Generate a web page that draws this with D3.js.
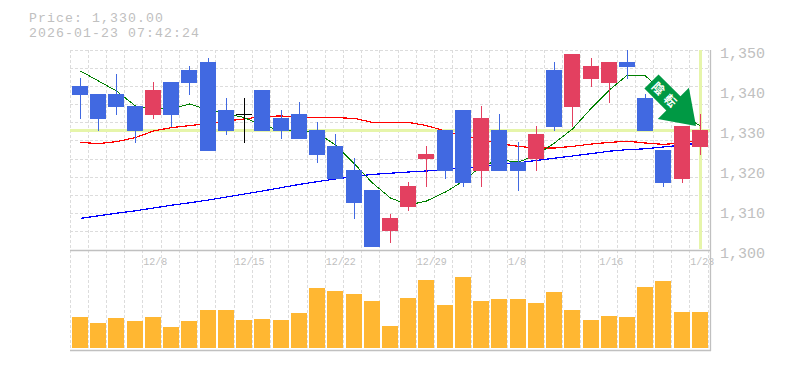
<!DOCTYPE html>
<html>
<head>
<meta charset="utf-8">
<style>
  html, body { margin: 0; padding: 0; background: #fff; overflow: hidden; }
  text { font-family: "Liberation Mono", "DejaVu Sans Mono", monospace; }
</style>
<script src="https://cdn.jsdelivr.net/npm/d3@7/dist/d3.min.js"></script>
</head>
<body>
<div class="canvas"></div>
<script>
const titleLines = ["Price: 1,330.00", "2026-01-23 07:42:24"];
const dateLabels = ["12/8", "12/15", "12/22", "12/29", "1/8", "1/16", "1/23"];
const dateIndexes = [4, 9, 14, 19, 24, 29, 34];
const priceTicks = [1300, 1310, 1320, 1330, 1340, 1350];
const lastPrice = 1330;
const arrowLabel = "陰転";

const opens = [1341, 1339, 1339, 1336, 1334, 1342, 1345, 1347, 1335, 1334, 1340, 1333, 1334, 1330, 1326, 1320, 1315, 1305, 1311, 1323, 1330, 1335, 1320, 1330, 1322, 1323, 1345, 1336, 1343, 1342, 1347, 1338, 1325, 1318, 1326];
const highs = [1343, 1339, 1344, 1336, 1342, 1342, 1346, 1348, 1338, 1338, 1340, 1335, 1337, 1332, 1329, 1323, 1315, 1309, 1317, 1326, 1330, 1335, 1336, 1334, 1327, 1331, 1347, 1349, 1348, 1347, 1350, 1339, 1325, 1331, 1334];
const lows = [1333, 1330, 1334, 1327, 1333, 1331, 1339, 1325, 1329, 1327, 1330, 1328, 1328, 1322, 1318, 1308, 1301, 1302, 1310, 1316, 1318, 1316, 1316, 1320, 1315, 1320, 1330, 1331, 1341, 1337, 1343, 1330, 1316, 1317, 1324];
const closes = [1339, 1333, 1336, 1330, 1340, 1334, 1342, 1325, 1330, 1334, 1330, 1330, 1328, 1324, 1318, 1312, 1301, 1308, 1316, 1324, 1320, 1317, 1333, 1320, 1320, 1329, 1331, 1349, 1346, 1347, 1346, 1330, 1317, 1331, 1330];

const maShort = [1344.75, 1342.25, 1339.75, 1336, 1335.3, 1335.25, 1336.5, 1335, 1334.1, 1333.1, 1331, 1330, 1330, 1329.25, 1326.25, 1321.5, 1316.75, 1313, 1311.25, 1312.25, 1314.5, 1317.25, 1321, 1322.5, 1322, 1323.75, 1326.75, 1330.25, 1335.5, 1340, 1343.75, 1343.5, 1339.5, 1333.75, 1331];
const maMid = [1326.9, 1326.6, 1327.1, 1328.1, 1329.75, 1330.6, 1331.1, 1331.6, 1332.25, 1332.75, 1333.4, 1333.5, 1333.25, 1333.1, 1333.1, 1332.9, 1331.9, 1331.9, 1331.9, 1331.1, 1329.75, 1328.5, 1327.6, 1326.6, 1325.9, 1325.5, 1325.5, 1325.9, 1326.5, 1326.9, 1327.2, 1326.75, 1326.4, 1326.75, 1327.5];
const maLong = [1307.9, 1308.55, 1309.2, 1309.8, 1310.5, 1311.2, 1311.8, 1312.5, 1313.25, 1314, 1314.75, 1315.6, 1316.4, 1317.1, 1317.75, 1318.4, 1318.9, 1319.2, 1319.5, 1319.75, 1320.1, 1320.5, 1320.9, 1321.4, 1321.8, 1322.4, 1322.95, 1323.5, 1324.1, 1324.7, 1325.1, 1325.3, 1325.75, 1326.25, 1326.75];

const volumes = [31, 25, 30, 27, 31, 21, 27, 38, 38, 28, 29, 28, 35, 60, 57, 54, 47, 22, 50, 68, 43, 71, 47, 49, 49, 45, 56, 38, 28, 32, 31, 61, 67, 36, 36];

const dim = { width: 785, height: 370, left: 70.9, right: 709.1, top: 50, mid: 250, bottom: 350 };
const colors = {
  up: "#e34060",
  down: "#4169e1",
  flat: "#000",
  volume: "#ffb732",
  grid: "#dcdcdc",
  axis: "#c0c0c0",
  text: "#c0c0c0",
  band: "#e6f5aa",
  arrow: "#009944",
};

const svg = d3
  .select(".canvas")
  .append("svg")
  .attr("width", dim.width)
  .attr("height", dim.height)
  .style("display", "block");

const x = d3
  .scaleBand()
  .domain(d3.range(opens.length))
  .range([dim.left, dim.right]);
const y = d3.scaleLinear().domain([1300, 1350]).range([dim.mid, dim.top]);
const yVol = d3.scaleLinear().domain([0, 100]).range([348, 248]);

const barLeft = (i) => Math.round(x(i) + 1.1);
const wickX = (i) => barLeft(i) + 8;

// title, smaller size with extra spacing keeps the 9px character cell
svg
  .selectAll(".title")
  .data(titleLines)
  .enter()
  .append("text")
  .attr("class", "title")
  .attr("x", 29)
  .attr("y", (d, i) => 22 + i * 15)
  .attr("font-size", 13.2)
  .attr("letter-spacing", 1.08)
  .attr("fill", colors.text)
  .text((d) => d);

// dashed grid
const gridX = d3.range(opens.length + 1).map((i) => Math.floor(70 + x.step() * i) + 0.5);
const gridY = d3.range(12).map((i) => Math.floor(y(1350 - (i * 50) / 11)) + 0.5);

svg
  .append("g")
  .selectAll("line")
  .data(gridX)
  .enter()
  .append("line")
  .attr("x1", (d) => d)
  .attr("x2", (d) => d)
  .attr("y1", dim.top)
  .attr("y2", dim.bottom)
  .attr("stroke", colors.grid)
  .attr("stroke-dasharray", "3,2");

svg
  .append("g")
  .selectAll("line")
  .data(gridY.slice(0, -1))
  .enter()
  .append("line")
  .attr("x1", 70)
  .attr("x2", 710)
  .attr("y1", (d) => d)
  .attr("y2", (d) => d)
  .attr("stroke", colors.grid)
  .attr("stroke-dasharray", "3,2");

// last price highlight
svg
  .append("rect")
  .attr("x", 70)
  .attr("y", y(lastPrice) - 1)
  .attr("width", 640)
  .attr("height", 3)
  .attr("fill", colors.band);
svg
  .append("rect")
  .attr("x", wickX(opens.length - 1) - 1)
  .attr("y", dim.top)
  .attr("width", 3)
  .attr("height", 199)
  .attr("fill", colors.band);

// frame
[
  [70, dim.mid + 0.5, 711, dim.mid + 0.5],
  [70, dim.bottom + 0.5, 711, dim.bottom + 0.5],
  [710.5, dim.top, 710.5, dim.bottom + 1],
].forEach((d) => {
  svg
    .append("line")
    .attr("x1", d[0])
    .attr("y1", d[1])
    .attr("x2", d[2])
    .attr("y2", d[3])
    .attr("stroke", colors.axis)
    .attr("stroke-width", 1.3);
});

// moving averages
const line = d3
  .line()
  .x((d, i) => wickX(i) + 0.5)
  .y((d) => y(d));

[
  { values: maLong, color: "#0000ff", width: 1.2 },
  { values: maMid, color: "#ff0000", width: 1.2 },
  { values: maShort, color: "#008000", width: 1 },
].forEach((s) => {
  svg
    .append("path")
    .attr("d", line(s.values))
    .attr("fill", "none")
    .attr("stroke", s.color)
    .attr("stroke-width", s.width)
    .attr("shape-rendering", "crispEdges");
});

// candles
const candleColor = (i) =>
  closes[i] > opens[i] ? colors.up : closes[i] < opens[i] ? colors.down : colors.flat;

const candles = svg
  .append("g")
  .attr("shape-rendering", "crispEdges")
  .selectAll("g")
  .data(d3.range(opens.length))
  .enter()
  .append("g")
  .attr("fill", candleColor);

candles
  .append("rect")
  .attr("x", wickX)
  .attr("y", (i) => y(highs[i]))
  .attr("width", 1)
  .attr("height", (i) => y(lows[i]) - y(highs[i]) + 1);

candles
  .append("rect")
  .attr("x", barLeft)
  .attr("y", (i) => y(Math.max(opens[i], closes[i])))
  .attr("width", 16)
  .attr("height", (i) => Math.abs(y(opens[i]) - y(closes[i])) + 1);

// volume
svg
  .append("g")
  .attr("shape-rendering", "crispEdges")
  .selectAll("rect")
  .data(volumes)
  .enter()
  .append("rect")
  .attr("x", (d, i) => barLeft(i))
  .attr("y", (d) => yVol(d))
  .attr("width", 16)
  .attr("height", (d) => yVol(0) - yVol(d))
  .attr("fill", colors.volume);

// axes
const priceAxis = d3
  .axisRight(y)
  .tickValues(priceTicks)
  .tickFormat(d3.format(","))
  .tickSize(0)
  .tickPadding(0);

const priceGroup = svg
  .append("g")
  .attr("transform", "translate(720, 0)")
  .call(priceAxis);
priceGroup.select(".domain").remove();
priceGroup
  .selectAll("text")
  .attr("font-family", null)
  .attr("font-size", 15)
  .attr("fill", colors.text)
  .attr("dy", "0.5em");

const dateAxis = d3
  .axisBottom(x)
  .tickValues(dateIndexes)
  .tickFormat((d, i) => dateLabels[i])
  .tickSize(0)
  .tickPadding(0);

const dateGroup = svg
  .append("g")
  .attr("transform", `translate(${-x.step() / 2 - 0.5}, 258)`)
  .call(dateAxis);
dateGroup.select(".domain").remove();
dateGroup
  .selectAll("text")
  .attr("font-family", null)
  .attr("font-size", 10)
  .attr("fill", colors.text)
  .attr("text-anchor", "start")
  .attr("dy", "0.71em");

// signal arrow, anchored on the last candle and laid out along its own axis
const tip = { x: wickX(opens.length - 1) - 4, y: y(lastPrice) - 4 };
const arrowShape = [
  [-63, -10], [-63, 10], [-32, 10], [-32, 22], [0, 0], [-32, -22], [-32, -10],
];
const arrow = svg
  .append("g")
  .attr("transform", `translate(${tip.x}, ${tip.y}) rotate(45)`);

arrow
  .append("path")
  .attr("d", d3.line()(arrowShape) + "Z")
  .attr("fill", colors.arrow);

arrow
  .append("text")
  .attr("x", -42)
  .attr("y", 4.5)
  .attr("text-anchor", "middle")
  .attr("font-size", 12)
  .attr("font-weight", 700)
  .attr("letter-spacing", 5)
  .style("font-family", '"Noto Sans CJK JP"')
  .attr("fill", "#fff")
  .text(arrowLabel);
</script>
</body>
</html>
